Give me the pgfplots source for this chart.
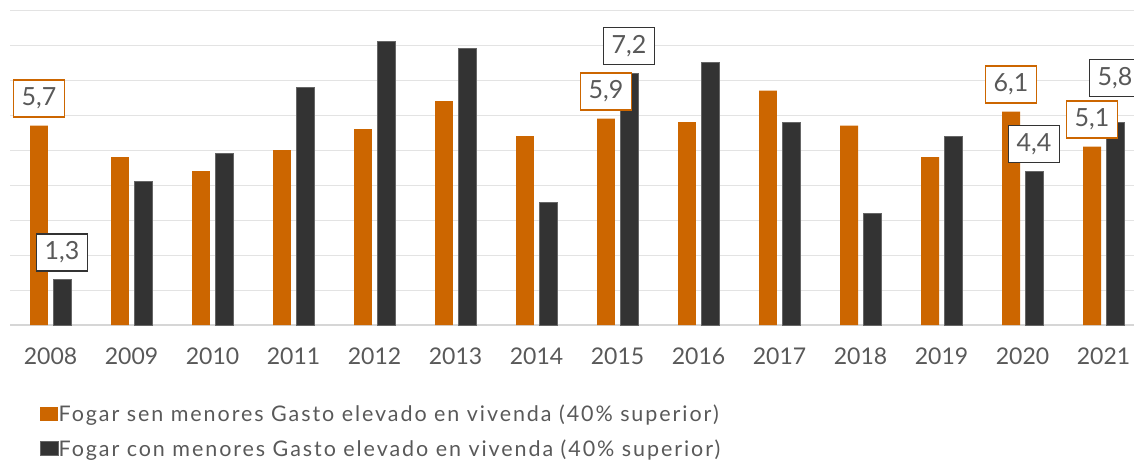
\documentclass[border=0pt]{standalone}
\usepackage{fontspec}
\setmainfont{Lato}
\newfontfamily\legfont[LetterSpace=9]{Lato}
\usepackage{pgfplots}
\pgfplotsset{compat=1.18}
\definecolor{orng}{HTML}{CC6600}
\definecolor{drk}{HTML}{333333}
\definecolor{txt}{HTML}{595959}
\definecolor{grd}{HTML}{E3E3E3}
\definecolor{base}{HTML}{D6D6D6}
\pgfplotsset{
  legsq/.style={legend image code/.code={\fill[##1] (0pt,-7pt) rectangle (14pt,7pt); \path (0pt,-7pt) rectangle (18pt,7pt);}},
}
\tikzset{
  lbl/.style={font=\fontsize{25}{30}\selectfont, text=txt, fill=white, line width=1.4pt,
     inner sep=0pt, minimum width=51pt, minimum height=37pt, anchor=south, yshift=8pt},
}
\begin{document}
\begin{tikzpicture}
\begin{axis}[
  at={(0pt,0pt)}, anchor=south west,
  scale only axis, width=1134pt, height=315pt,
  xmin=-0.5, xmax=13.5, ymin=0, ymax=9,
  ytick={1,2,3,4,5,6,7,8,9}, yticklabels={},
  ymajorgrids, grid style={grd, line width=1pt},
  extra y ticks={0}, extra y tick labels={},
  extra y tick style={grid style={base, line width=2pt}},
  xtick={0,1,2,3,4,5,6,7,8,9,10,11,12,13},
  xticklabels={2008,2009,2010,2011,2012,2013,2014,2015,2016,2017,2018,2019,2020,2021},
  axis line style={draw=none}, major tick length=0pt,
  xticklabel style={font=\fontsize{23}{28}\selectfont, text=txt, yshift=-19pt},
  /pgf/number format/assume math mode=true,
  ybar, bar width=0.222, clip=false,
  legend style={at={(0.02646,-0.254)}, anchor=north west, draw=none, fill=none,
     inner sep=0pt, outer sep=0pt, row sep=16.5pt,
     font=\legfont\fontsize{21.5}{25}\selectfont, text=txt,
     nodes={inner sep=0pt}},
  legend cell align=left,
]
\addplot[fill=orng, draw=none, bar shift=-0.142, legsq] coordinates {
 (0,5.7) (1,4.8) (2,4.4) (3,5.0) (4,5.6) (5,6.4) (6,5.4)
 (7,5.9) (8,5.8) (9,6.7) (10,5.7) (11,4.8) (12,6.1) (13,5.1)};
\addlegendentry{Fogar sen menores Gasto elevado en vivenda (40\% superior)}
\addplot[fill=drk, draw=drk!75!white, line width=0.6pt, bar shift=0.142, legsq] coordinates {
 (0,1.3) (1,4.1) (2,4.9) (3,6.8) (4,8.1) (5,7.9) (6,3.5)
 (7,7.2) (8,7.5) (9,5.8) (10,3.2) (11,5.4) (12,4.4) (13,5.8)};
\addlegendentry{Fogar con menores Gasto elevado en vivenda (40\% superior)}
% value labels
\addplot[draw=none, fill=none, bar shift=-0.142, forget plot,
  nodes near coords={\pgfmathprintnumber[use comma, fixed, fixed zerofill, precision=1]{\pgfplotspointmeta}},
  every node near coord/.append style={lbl, draw=orng}] coordinates {
 (0,5.7) (7,5.9) (12,6.1) (13,5.1)};
\addplot[draw=none, fill=none, bar shift=0.142, forget plot,
  nodes near coords={\pgfmathprintnumber[use comma, fixed, fixed zerofill, precision=1]{\pgfplotspointmeta}},
  every node near coord/.append style={lbl, draw=drk}] coordinates {
 (0,1.3) (7,7.2) (12,4.4)};
\addplot[draw=none, fill=none, bar shift=0.142, forget plot,
  nodes near coords={\pgfmathprintnumber[use comma, fixed, fixed zerofill, precision=1]{\pgfplotspointmeta}},
  every node near coord/.append style={lbl, draw=drk, yshift=17pt}] coordinates {
 (13,5.8)};
\end{axis}
\pgfresetboundingbox
\path (-10pt,-135pt) rectangle (1124pt,325pt);
\end{tikzpicture}
\end{document}
